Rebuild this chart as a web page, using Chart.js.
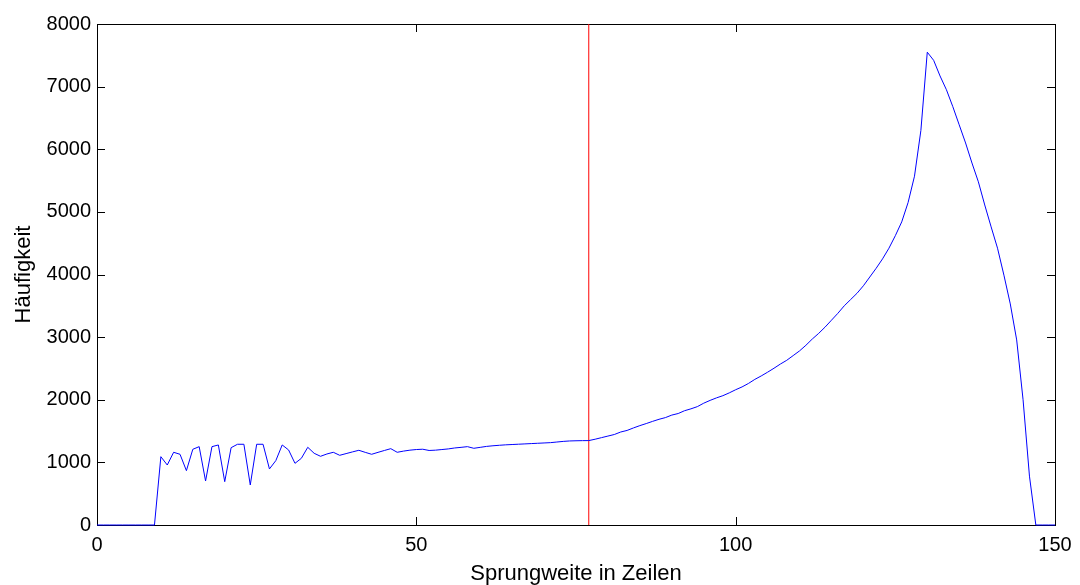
<!DOCTYPE html>
<html lang="de">
<head>
  <meta charset="UTF-8">
  <title>Häufigkeit der Sprungweite</title>
  <style>
    html, body {
      margin: 0;
      padding: 0;
      background: #fff;
    }
    .chart-box {
      width: 1080px;
      height: 585px;
    }
  </style>
</head>
<body>
  <div class="chart-box">
    <canvas id="sprungChart"></canvas>
  </div>

  <script src="https://cdn.jsdelivr.net/npm/chart.js"></script>
  <script>
    // Sprungweite (x) 0..150
    var sprungweite = [
      0, 1, 2, 3, 4, 5, 6, 7, 8, 9,
      10, 11, 12, 13, 14, 15, 16, 17, 18, 19,
      20, 21, 22, 23, 24, 25, 26, 27, 28, 29,
      30, 31, 32, 33, 34, 35, 36, 37, 38, 39,
      40, 41, 42, 43, 44, 45, 46, 47, 48, 49,
      50, 51, 52, 53, 54, 55, 56, 57, 58, 59,
      60, 61, 62, 63, 64, 65, 66, 67, 68, 69,
      70, 71, 72, 73, 74, 75, 76, 77, 78, 79,
      80, 81, 82, 83, 84, 85, 86, 87, 88, 89,
      90, 91, 92, 93, 94, 95, 96, 97, 98, 99,
      100, 101, 102, 103, 104, 105, 106, 107, 108, 109,
      110, 111, 112, 113, 114, 115, 116, 117, 118, 119,
      120, 121, 122, 123, 124, 125, 126, 127, 128, 129,
      130, 131, 132, 133, 134, 135, 136, 137, 138, 139,
      140, 141, 142, 143, 144, 145, 146, 147, 148, 149,
      150
    ];

    // Häufigkeit je Sprungweite
    var haeufigkeit = [
      0, 0, 0, 0, 0, 0, 0, 0, 0, 0,
      1091, 958, 1161, 1129, 868, 1209, 1251, 703, 1251, 1278,
      692, 1235, 1289, 1289, 639, 1289, 1289, 895, 1028, 1278,
      1198, 985, 1065, 1241, 1145, 1097, 1134, 1161, 1113, 1140,
      1167, 1193, 1160, 1129, 1160, 1190, 1219, 1161, 1180, 1195,
      1205, 1210, 1190, 1195, 1205, 1215, 1230, 1240, 1251, 1225,
      1240, 1255, 1265, 1273, 1280, 1285, 1290, 1295, 1300, 1305,
      1310, 1315, 1325, 1335, 1342, 1345, 1347, 1348, 1370, 1395,
      1420, 1445, 1485, 1510, 1550, 1587, 1620, 1655, 1688, 1715,
      1755, 1780, 1825, 1855, 1890, 1945, 1990, 2030, 2065, 2110,
      2160, 2205, 2260, 2325, 2380, 2440, 2503, 2570, 2630, 2705,
      2780, 2870, 2970, 3060, 3160, 3270, 3380, 3500, 3600, 3700,
      3820, 3960, 4100, 4250, 4420, 4620, 4840, 5150, 5570, 6300,
      7550, 7420, 7170, 6950, 6680, 6390, 6100, 5780, 5480, 5110,
      4760, 4420, 3990, 3530, 2955, 2000, 780, 0, 0, 0,
      0
    ];

    // rote Markierung
    var markierungX = 77;
    var markierungY = [0, 8000];

    var xTicks = [0, 50, 100, 150];
    var yTicks = [0, 1000, 2000, 3000, 4000, 5000, 6000, 7000, 8000];

    var schrift = 'Liberation Sans, Arial, Helvetica, sans-serif';

    // Rahmen und nach innen zeigende Ticks (wie Matlab)
    var rahmenPlugin = {
      id: 'rahmen',
      beforeDatasetsDraw: function (chart) {
        var ctx = chart.ctx;
        var a = chart.chartArea;
        var xs = chart.scales.x;
        var ys = chart.scales.y;
        var len = 8;
        ctx.save();
        ctx.strokeStyle = '#000';
        ctx.lineWidth = 1;
        ctx.strokeRect(a.left + 0.5, a.top + 0.5, a.right - a.left, a.bottom - a.top);
        ctx.beginPath();
        xTicks.forEach(function (v) {
          var px = Math.round(xs.getPixelForValue(v)) + 0.5;
          ctx.moveTo(px, a.bottom);
          ctx.lineTo(px, a.bottom - len);
          ctx.moveTo(px, a.top);
          ctx.lineTo(px, a.top + len);
        });
        yTicks.forEach(function (v) {
          var py = Math.round(ys.getPixelForValue(v)) + 0.5;
          ctx.moveTo(a.left, py);
          ctx.lineTo(a.left + len, py);
          ctx.moveTo(a.right, py);
          ctx.lineTo(a.right - len, py);
        });
        ctx.stroke();
        ctx.restore();
      }
    };

    var punkte = sprungweite.map(function (x, i) {
      return { x: x, y: haeufigkeit[i] };
    });

    var ctx = document.getElementById('sprungChart').getContext('2d');
    var sprungChart = new Chart(ctx, {
      type: 'line',
      data: {
        datasets: [{
          label: 'Häufigkeit',
          data: punkte,
          borderColor: '#0000ff',
          borderWidth: 1,
          pointRadius: 0,
          fill: false,
          tension: 0,
          clip: false
        }, {
          label: 'Markierung',
          data: markierungY.map(function (y) { return { x: markierungX, y: y }; }),
          borderColor: '#ff0000',
          borderWidth: 1,
          pointRadius: 0,
          fill: false,
          clip: false
        }]
      },
      options: {
        responsive: true,
        maintainAspectRatio: false,
        animation: false,
        events: [],
        layout: {
          padding: { top: 24, right: 25, left: 0, bottom: 0 }
        },
        plugins: {
          legend: { display: false },
          tooltip: { enabled: false }
        },
        scales: {
          x: {
            type: 'linear',
            min: 0,
            max: 150,
            afterBuildTicks: function (scale) {
              scale.ticks = xTicks.map(function (v) { return { value: v }; });
            },
            afterFit: function (scale) { scale.height = 60; },
            grid: { display: false, drawTicks: false },
            border: { display: false },
            ticks: {
              color: '#000',
              padding: 8,
              maxRotation: 0,
              font: { family: schrift, size: 20 },
              callback: function (v) { return String(v); }
            },
            title: {
              display: true,
              text: 'Sprungweite in Zeilen',
              color: '#000',
              padding: { top: 0, bottom: 0 },
              font: { family: schrift, size: 22, lineHeight: 1 }
            }
          },
          y: {
            type: 'linear',
            min: 0,
            max: 8000,
            afterBuildTicks: function (scale) {
              scale.ticks = yTicks.map(function (v) { return { value: v }; });
            },
            afterFit: function (scale) { scale.width = 97; },
            grid: { display: false, drawTicks: false },
            border: { display: false },
            ticks: {
              color: '#000',
              padding: 6,
              font: { family: schrift, size: 20 },
              callback: function (v) { return String(v); }
            },
            title: {
              display: true,
              text: 'Häufigkeit',
              color: '#000',
              padding: { top: 11, bottom: 0 },
              font: { family: schrift, size: 22 }
            }
          }
        }
      },
      plugins: [rahmenPlugin]
    });
  </script>
</body>
</html>
